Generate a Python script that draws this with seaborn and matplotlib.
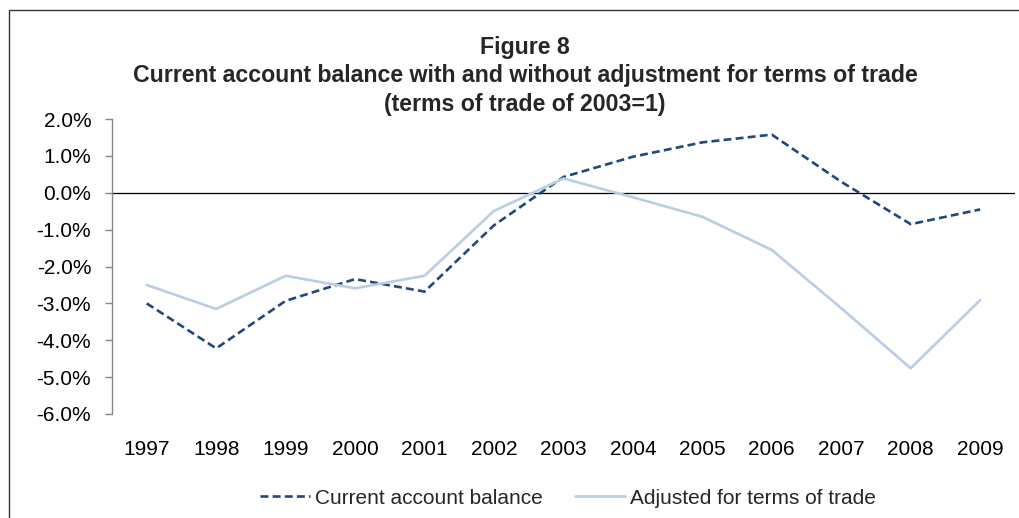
import pandas as pd
import matplotlib
matplotlib.use("Agg")
import matplotlib.pyplot as plt
import seaborn as sns
from matplotlib.ticker import PercentFormatter, MultipleLocator
from matplotlib.patches import Rectangle

years = [1997, 1998, 1999, 2000, 2001, 2002, 2003, 2004, 2005, 2006, 2007, 2008, 2009]
current_account = [-3.00, -4.22, -2.93, -2.34, -2.68, -0.88, 0.43, 0.98, 1.37, 1.58, 0.30, -0.85, -0.45]
adjusted = [-2.50, -3.15, -2.25, -2.59, -2.25, -0.49, 0.39, -0.12, -0.65, -1.55, -3.13, -4.76, -2.91]

series_names = ["Current account balance", "Adjusted for terms of trade"]
title_text = ("Figure 8\n"
              "Current account balance with and without adjustment for terms of trade\n"
              "(terms of trade of 2003=1)")

df = pd.DataFrame({"year": years,
                   series_names[0]: current_account,
                   series_names[1]: adjusted})
long_df = df.melt(id_vars="year", var_name="series", value_name="value")

sns.set_theme(style="white")
plt.rcParams["font.family"] = ["Liberation Sans", "DejaVu Sans"]
plt.rcParams["axes.unicode_minus"] = False

fig = plt.figure(figsize=(10.2, 5.18), dpi=100)
ax = fig.add_axes([0.1098, 0.2008, 0.995 - 0.1098, 0.770 - 0.2008])

# outer frame of the chart area
fig.patches.append(Rectangle((9 / 1020, -0.1), 1.2, 1 - 10 / 518 + 0.1,
                             transform=fig.transFigure, fill=False,
                             edgecolor="#333333", linewidth=1.0))

sns.lineplot(data=long_df, x="year", y="value", hue="series", style="series",
             palette={series_names[0]: "#1F497D", series_names[1]: "#B9CDE5"},
             dashes={series_names[0]: (3.0, 1.6), series_names[1]: ""},
             linewidth=1.9, ax=ax)

ax.axhline(0, color="black", linewidth=0.9, zorder=1)

ax.set_xlim(years[0] - 0.5, years[-1] + 0.5)
ax.set_ylim(-6, 2)
ax.yaxis.set_major_locator(MultipleLocator(1))
ax.yaxis.set_major_formatter(PercentFormatter(decimals=1))
ax.set_xticks(years)
ax.set_xticklabels([str(y) for y in years])

for side in ["top", "right", "bottom"]:
    ax.spines[side].set_visible(False)
ax.spines["left"].set_color("#868686")
ax.spines["left"].set_linewidth(1.0)

ax.tick_params(axis="y", which="major", left=True, length=5, width=1.0,
               color="#868686", pad=10, labelsize=15, labelcolor="black")
ax.tick_params(axis="x", length=0, pad=19, labelsize=15, labelcolor="black")
ax.set_xlabel("")
ax.set_ylabel("")

fig.text(525 / 1020, 1 - 36 / 518, title_text, ha="center", va="top",
         fontsize=16.7, fontweight="bold", linespacing=1.3)

handles, labels = ax.get_legend_handles_labels()
ax.legend(handles, labels, ncol=2, loc="center", frameon=False,
          bbox_to_anchor=(568 / 1020, 1 - 498 / 518), bbox_transform=fig.transFigure,
          fontsize=15, handlelength=2.4, handletextpad=0.25, columnspacing=1.55)

fig.savefig("out.png", dpi=100)
